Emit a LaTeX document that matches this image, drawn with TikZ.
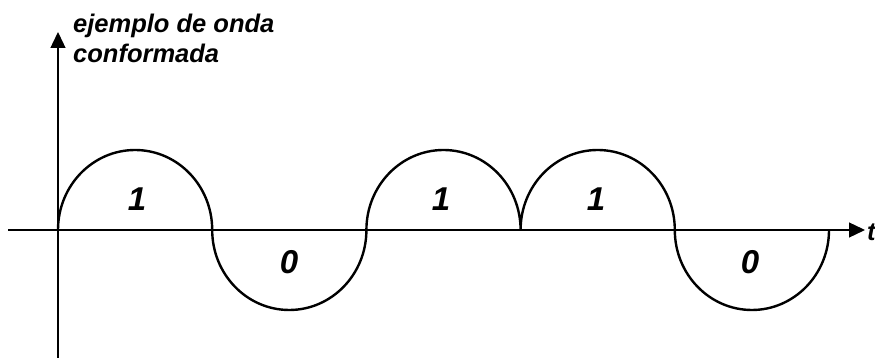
\documentclass[tikz,border=0pt]{standalone}
\usepackage{fontspec}
\setmainfont{Liberation Sans}
\usetikzlibrary{arrows.meta}

\begin{document}
\begin{tikzpicture}[x=1pt, y=1pt,
            axis/.style={color=black, line width=1.3pt},
            axisarrow/.style={axis, -{Triangle[length=16pt, width=15pt]}},
            wave/.style={color=black, line width=2.4pt},
            bitnode/.style={inner sep=0pt, font=\bfseries\itshape\fontsize{33}{36}\selectfont},
            titlenode/.style={inner sep=0pt, align=left, font=\bfseries\itshape\fontsize{25.5}{30}\selectfont}
        ]
            \useasboundingbox (0,0) rectangle (875,358);

            % axes
            \coordinate (yfoot) at (58,0);
            \coordinate (ytip) at (58,326);
            \coordinate (xfoot) at (8,128);
            \coordinate (xtip) at (865,128);
            \draw[axisarrow] (yfoot) -- (ytip);
            \draw[axisarrow] (xfoot) -- (xtip);

            % axis labels
            \node[titlenode, anchor=north west] (title) at (73,344) {ejemplo de onda\\conformada};
            \node[titlenode, anchor=west] (tlabel) at (867,126) {t};

            % wave (1 0 1 1 0)
            \coordinate (w0) at (58,128);
            \draw[wave] (w0)
                arc[start angle=180, end angle=0, x radius=77.1, y radius=80]
                arc[start angle=180, end angle=360, x radius=77.1, y radius=80]
                arc[start angle=180, end angle=0, x radius=77.1, y radius=80]
                arc[start angle=180, end angle=0, x radius=77.1, y radius=80]
                arc[start angle=180, end angle=360, x radius=77.1, y radius=80];

            % bits
            \node[bitnode] (bita) at (137,159) {1};
            \node[bitnode] (bitb) at (289,96) {0};
            \node[bitnode] (bitc) at (441,159) {1};
            \node[bitnode] (bitd) at (596,159) {1};
            \node[bitnode] (bite) at (750,96) {0};

        \end{tikzpicture}
\end{document}
